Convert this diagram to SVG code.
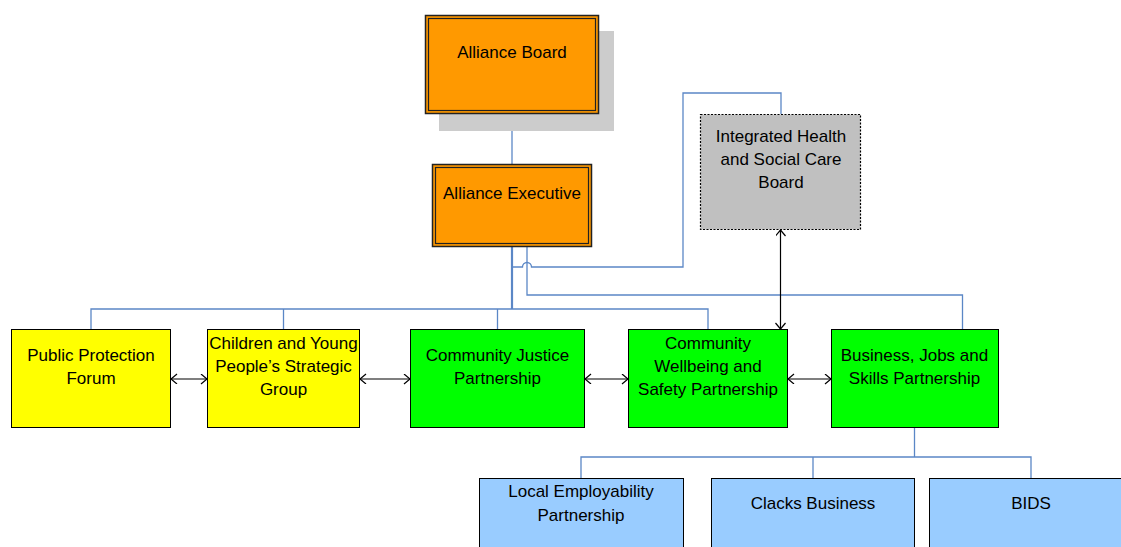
<svg xmlns="http://www.w3.org/2000/svg" width="1121" height="547" viewBox="0 0 1121 547">
<style>
text{font-family:"Liberation Sans",Arial,sans-serif;font-size:17px;fill:#000;text-anchor:middle}
.box{stroke:#000;stroke-width:1}
.org{fill:#ff9900;stroke:#222;stroke-width:1.5}
.inner{fill:none;stroke:#222;stroke-width:1.2}
.yel{fill:#ffff00}
.grn{fill:#00ff00}
.blu{fill:#99ccff}
.conn{fill:none;stroke:#5b87c6;stroke-width:1.3}
.arr{fill:none;stroke:#000;stroke-width:1.2;marker-start:url(#ah);marker-end:url(#ah)}
</style>
<defs>
<marker id="ah" markerUnits="userSpaceOnUse" markerWidth="10" markerHeight="12" refX="7" refY="5" orient="auto-start-reverse">
<path d="M1,0 L7,5 L1,10" fill="none" stroke="#000" stroke-width="1.2"/>
</marker>
</defs>
<g id="connectors">
<path class="conn" d="M512,114 V164"/>
<path class="conn" stroke-width="2" d="M512,247 V309" style="stroke-width:2.2"/>
<path class="conn" d="M91,329 V309 H708 V329"/>
<path class="conn" d="M283.5,309 V329"/>
<path class="conn" d="M497.5,309 V329"/>
<path class="conn" d="M527,247 V295 H962.5 V329"/>
<path class="conn" d="M512,267 H522.5 A4.5,4.5 0 0 1 531.5,267 H683 V93 H781 V114"/>
<path class="conn" d="M914.5,428 V457"/>
<path class="conn" d="M581,478 V457 H1031 V478"/>
<path class="conn" d="M813,457 V478"/>
<path class="arr" d="M780.5,230 V329"/>
<path class="arr" d="M171,379 H207"/>
<path class="arr" d="M360,379 H410"/>
<path class="arr" d="M585,379 H628"/>
<path class="arr" d="M788,379 H831"/>
</g>
<g id="alliance-board">
<rect x="439" y="31" width="175" height="100" fill="#cccccc"/>
<rect class="org" x="425.5" y="15.5" width="173" height="98"/>
<rect class="inner" x="428.5" y="18.5" width="167" height="92"/>
<text x="512" y="58">Alliance Board</text>
</g>
<g id="alliance-executive">
<rect class="org" x="432.5" y="164.5" width="159" height="82"/>
<rect class="inner" x="435.5" y="167.5" width="153" height="76"/>
<text x="512" y="199">Alliance Executive</text>
</g>
<g id="integrated-health">
<rect x="700.5" y="114.5" width="160" height="115" fill="#c0c0c0" stroke="#000" stroke-width="1.2" stroke-dasharray="2,1.5"/>
<text x="781" y="142">Integrated Health</text>
<text x="781" y="165">and Social Care</text>
<text x="781" y="188">Board</text>
</g>
<g id="public-protection">
<rect class="box yel" x="11.5" y="329.5" width="159" height="98"/>
<text x="91" y="361">Public Protection</text>
<text x="91" y="384">Forum</text>
</g>
<g id="children-young-people">
<rect class="box yel" x="207.5" y="329.5" width="152" height="98"/>
<text x="283.5" y="349">Children and Young</text>
<text x="283.5" y="372">People’s Strategic</text>
<text x="283.5" y="395">Group</text>
</g>
<g id="community-justice">
<rect class="box grn" x="410.5" y="329.5" width="174" height="98"/>
<text x="497.5" y="361">Community Justice</text>
<text x="497.5" y="384">Partnership</text>
</g>
<g id="community-wellbeing">
<rect class="box grn" x="628.5" y="329.5" width="159" height="98"/>
<text x="708" y="349">Community</text>
<text x="708" y="372">Wellbeing and</text>
<text x="708" y="395">Safety Partnership</text>
</g>
<g id="business-jobs">
<rect class="box grn" x="831.5" y="329.5" width="167" height="98"/>
<text x="914.5" y="361">Business, Jobs and</text>
<text x="914.5" y="384">Skills Partnership</text>
</g>
<g id="local-employability">
<rect class="box blu" x="479.5" y="478.5" width="204" height="80"/>
<text x="581" y="497">Local Employability</text>
<text x="581" y="521">Partnership</text>
</g>
<g id="clacks-business">
<rect class="box blu" x="711.5" y="478.5" width="203" height="80"/>
<text x="813" y="509">Clacks Business</text>
</g>
<g id="bids">
<rect class="box blu" x="929.5" y="478.5" width="200" height="80"/>
<text x="1031" y="509">BIDS</text>
</g>
</svg>
